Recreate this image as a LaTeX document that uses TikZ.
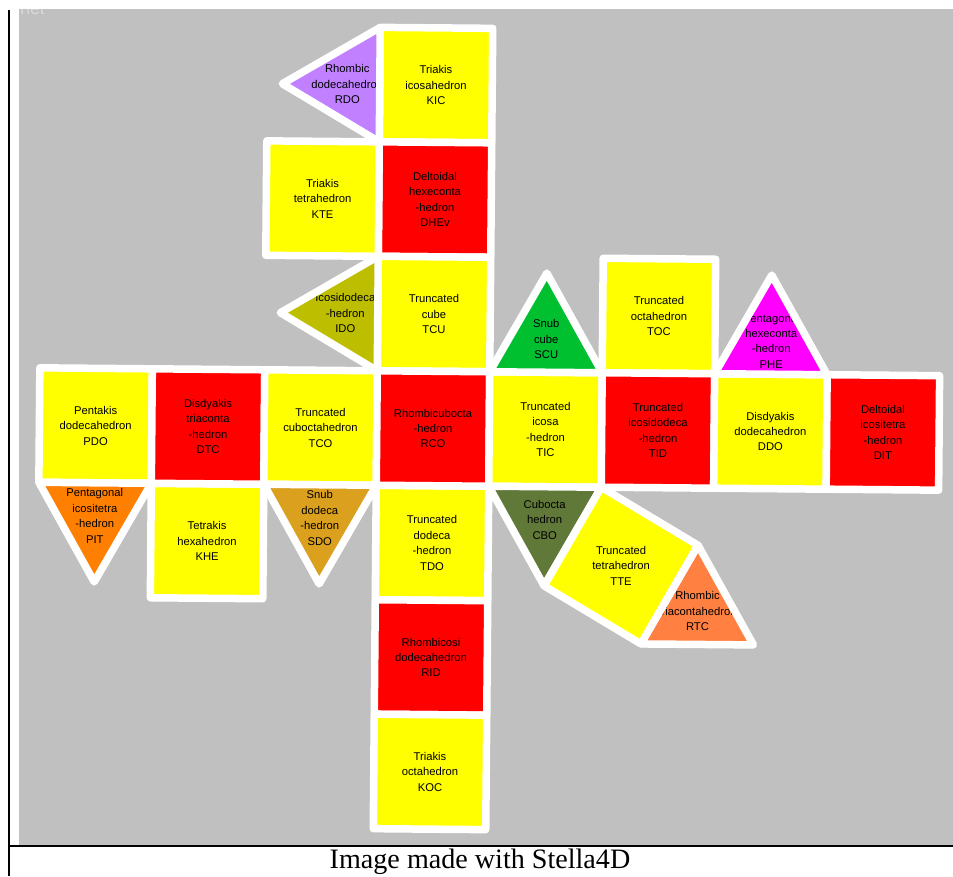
\documentclass[tikz,border=0pt]{standalone}
\usepackage{fontspec}
\newfontfamily\facefont{Liberation Sans}
\newfontfamily\capfont{Liberation Serif}
\usetikzlibrary{calc}

\definecolor{paper}{RGB}{192,192,192}
\definecolor{faceyellow}{RGB}{255,255,0}
\definecolor{facered}{RGB}{255,0,0}
\definecolor{lilac}{RGB}{192,128,255}
\definecolor{mustard}{RGB}{190,190,0}
\definecolor{snubgreen}{RGB}{0,192,48}
\definecolor{hotpink}{RGB}{255,0,255}
\definecolor{pumpkin}{RGB}{255,128,0}
\definecolor{ochre}{RGB}{218,160,30}
\definecolor{moss}{RGB}{96,120,56}
\definecolor{coral}{RGB}{255,128,64}

\tikzset{
  lbl/.style={font=\facefont\fontsize{6.4}{8.8}\selectfont, align=center, inner sep=0pt, text=black},
  rim/.style={draw=white, line width=0.15cm, line join=round}
}

% one face of the net: colour, outline, name, label place, text
\newcommand{\netface}[5]{%
  \begin{scope}
    \clip #2 -- cycle;
    \fill[#1] #2 -- cycle;
    \node[lbl] (#3) at #4 {#5};
  \end{scope}
  \path[rim] #2 -- cycle;
}
% square face: colour, column, row, name, text
\newcommand{\sqface}[5]{%
  \netface{#1}{({#2-0.5},{#3-0.5}) -- ({#2+0.5},{#3-0.5}) -- ({#2+0.5},{#3+0.5}) -- ({#2-0.5},{#3+0.5})}{#4}{(#2,#3)}{#5}%
}

\begin{document}
\begin{tikzpicture}[x=0.02cm, y=-0.02cm]
    \useasboundingbox (0,0) rectangle (953,876);

    % Frame
    \fill[paper] (19,9) rectangle (953,846);
    \begin{scope}
        \clip (19,9) rectangle (953,846);
        \node[font=\facefont\fontsize{10}{10}\selectfont, text=white!40!paper, anchor=base west, inner sep=0pt] (tag) at (20,14) {net};
    \end{scope}
    \draw[line width=0.04cm] (9,10) -- (9,876);
    \draw[line width=0.04cm] (8,846) -- (953,846);
    \node[font=\capfont\fontsize{16}{18}\selectfont, anchor=base, inner sep=0pt] (credit) at (480,868) {Image made with Stella4D};

    % Net, in cells of one square
    \begin{scope}[shift={(433,428.5)}, rotate=-0.5, x=2.25cm, y=-2.29cm]
        % Column
        \sqface{faceyellow}{0}{-3}{KIC}{Triakis\\icosahedron\\KIC}
        \sqface{facered}{0}{-2}{DHEv}{Deltoidal\\hexeconta\\-hedron\\DHEv}
        \sqface{faceyellow}{0}{-1}{TCU}{Truncated\\cube\\TCU}
        \sqface{faceyellow}{0}{1}{TDO}{Truncated\\dodeca\\-hedron\\TDO}
        \sqface{facered}{0}{2}{RID}{Rhombicosi\\dodecahedron\\RID}
        \sqface{faceyellow}{0}{3}{KOC}{Triakis\\octahedron\\KOC}
        \sqface{faceyellow}{-1}{-2}{KTE}{Triakis\\tetrahedron\\KTE}
        \sqface{faceyellow}{2}{-1}{TOC}{Truncated\\octahedron\\TOC}
        \sqface{faceyellow}{-2}{1}{KHE}{Tetrakis\\hexahedron\\KHE}

        % Row
        \sqface{faceyellow}{-3}{0}{PDO}{Pentakis\\dodecahedron\\PDO}
        \sqface{facered}{-2}{0}{DTC}{Disdyakis\\triaconta\\-hedron\\DTC}
        \sqface{faceyellow}{-1}{0}{TCO}{Truncated\\cuboctahedron\\TCO}
        \sqface{facered}{0}{0}{RCO}{Rhombicubocta\\-hedron\\RCO}
        \sqface{faceyellow}{1}{0}{TIC}{Truncated\\icosa\\-hedron\\TIC}
        \sqface{facered}{2}{0}{TID}{Truncated\\icosidodeca\\-hedron\\TID}
        \sqface{faceyellow}{3}{0}{DDO}{Disdyakis\\dodecahedron\\DDO}
        \sqface{facered}{4}{0}{DIT}{Deltoidal\\icositetra\\-hedron\\DIT}

        % Triangles
        \netface{lilac}{(-0.5,-3.5) -- (-0.5,-2.5) -- (-1.366,-3)}{RDO}{(-0.789,-3)}{Rhombic\\dodecahedron\\RDO}
        \netface{mustard}{(-0.5,-1.5) -- (-0.5,-0.5) -- (-1.366,-1)}{IDO}{(-0.789,-1)}{Icosidodeca\\-hedron\\IDO}
        \netface{snubgreen}{(0.5,-0.5) -- (1.5,-0.5) -- (1,-1.366)}{SCU}{(1,-0.789)}{Snub\\cube\\SCU}
        \netface{hotpink}{(2.5,-0.5) -- (3.5,-0.5) -- (3,-1.366)}{PHE}{(3,-0.789)}{Pentagonal\\hexeconta\\-hedron\\PHE}
        \netface{pumpkin}{(-3.5,0.5) -- (-2.5,0.5) -- (-3,1.366)}{PIT}{(-3,0.789)}{Pentagonal\\icositetra\\-hedron\\PIT}
        \netface{ochre}{(-1.5,0.5) -- (-0.5,0.5) -- (-1,1.366)}{SDO}{(-1,0.789)}{Snub\\dodeca\\-hedron\\SDO}
        \netface{moss}{(0.5,0.5) -- (1.5,0.5) -- (1,1.366)}{CBO}{(1,0.789)}{Cubocta\\hedron\\CBO}

        % Tilted tail
        \netface{faceyellow}{(1.5,0.5) -- (2.366,1) -- (1.866,1.866) -- (1,1.366)}{TTE}{(1.683,1.183)}{Truncated\\tetrahedron\\TTE}
        \netface{coral}{(2.366,1) -- (2.866,1.866) -- (1.866,1.866)}{RTC}{(2.366,1.577)}{Rhombic\\triacontahedron\\RTC}
    \end{scope}
\end{tikzpicture}
\end{document}
